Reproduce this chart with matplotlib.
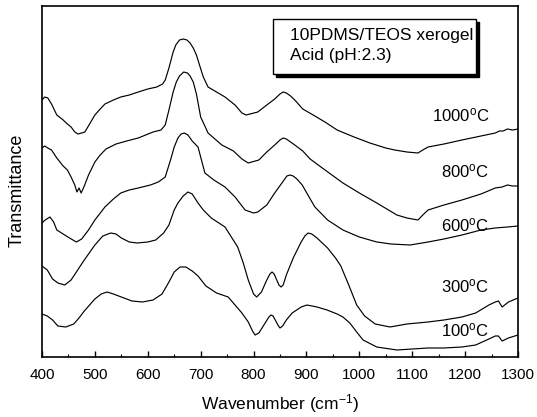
import matplotlib
matplotlib.use("Agg")
import matplotlib.pyplot as plt
from matplotlib.patches import Rectangle
from matplotlib.ticker import MultipleLocator

plt.rcParams['font.family'] = ['Liberation Sans', 'DejaVu Sans']
plt.rcParams['mathtext.fontset'] = 'custom'
plt.rcParams['mathtext.rm'] = 'Liberation Sans'
plt.rcParams['mathtext.it'] = 'Liberation Sans:italic'

# spectra, transmittance in arbitrary (offset) units
wn_1000 = [400, 405, 411, 418, 428, 440, 448, 455, 462, 468, 475, 481, 490, 500, 510, 519,
           535, 549, 565, 582, 600, 617, 628, 633, 640, 648, 653, 660, 667, 674, 680, 686,
           692, 699, 705, 714, 730, 746, 765, 778, 786, 808, 825, 840, 850, 856, 862, 870,
           878, 893, 916, 935, 958, 990, 1020, 1050, 1067, 1090, 1111, 1120, 1130, 1160, 1194,
           1230, 1257, 1265, 1272, 1280, 1290, 1300]
t_1000 = [257, 260, 259, 253, 242, 237, 233, 230, 225, 223, 224, 225, 233, 242, 248, 253,
          257, 260, 262, 265, 268, 270, 273, 277, 289, 305, 312, 317, 318, 317, 314, 309,
          302, 290, 280, 270, 265, 260, 252, 244, 242, 245, 252, 258, 263, 265, 264, 261,
          257, 248, 241, 235, 227, 220, 214, 209, 207, 205, 204, 207, 210, 213, 217,
          221, 224, 226, 226, 228, 227, 228]

wn_800 = [400, 405, 411, 418, 428, 440, 448, 455, 462, 466, 470, 474, 480, 488, 500, 510,
          521, 540, 560, 582, 610, 625, 633, 640, 648, 654, 660, 668, 675, 680, 686, 692,
          700, 714, 740, 762, 778, 790, 810, 825, 840, 850, 856, 862, 870, 878, 893, 907,
          930, 969, 1000, 1033, 1071, 1090, 1111, 1120, 1130, 1160, 1194, 1230, 1257, 1270,
          1280, 1290, 1300]
t_800 = [209, 211, 209, 207, 199, 191, 187, 180, 172, 165, 169, 164, 171, 182, 195, 202,
         208, 213, 216, 219, 225, 227, 232, 247, 265, 275, 281, 285, 284, 281, 275, 263,
         240, 224, 212, 206, 198, 194, 197, 205, 212, 217, 219, 218, 215, 212, 206, 198,
         189, 174, 164, 154, 142, 139, 137, 142, 147, 152, 157, 163, 169, 170,
         172, 171, 171]

wn_600 = [400, 406, 415, 422, 428, 440, 452, 465, 475, 488, 500, 519, 535, 549, 565, 582,
          605, 620, 633, 643, 650, 657, 663, 669, 676, 684, 695, 708, 725, 746, 765, 784,
          800, 808, 825, 840, 855, 863, 869, 875, 882, 892, 905, 916, 940, 969, 1000, 1033,
          1060, 1096, 1130, 1160, 1194, 1230, 1257, 1280, 1300]
t_600 = [134, 137, 140, 135, 127, 123, 119, 115, 118, 127, 137, 150, 158, 164, 167, 169,
         172, 175, 180, 197, 210, 219, 223, 224, 222, 216, 210, 184, 177, 170, 160, 147,
         144, 145, 152, 164, 175, 181, 182, 181, 178, 172, 160, 150, 137, 127, 120, 115,
         113, 112, 115, 118, 122, 127, 129, 130, 131]

wn_300 = [400, 410, 420, 430, 443, 455, 465, 480, 500, 515, 530, 540, 550, 565, 580, 600,
          615, 630, 640, 650, 657, 667, 676, 684, 695, 705, 720, 746, 770, 780, 790, 800,
          806, 815, 825, 831, 835, 839, 843, 848, 852, 856, 862, 875, 890, 897, 903, 910,
          920, 940, 955, 965, 980, 995, 1010, 1030, 1058, 1090, 1130, 1160, 1194, 1220, 1245,
          1257, 1263, 1270, 1282, 1300]
t_300 = [91, 87, 78, 74, 72, 77, 85, 97, 112, 121, 124, 123, 119, 115, 114, 115,
         117, 124, 132, 147, 154, 161, 165, 163, 154, 147, 139, 130, 110, 95, 77, 63,
         60, 65, 77, 83, 85, 83, 78, 72, 70, 72, 82, 99, 115, 121, 124, 123,
         119, 109, 99, 91, 72, 52, 41, 33, 30, 33, 35, 37, 40, 44, 52,
         55, 56, 50, 55, 59]

wn_100 = [400, 410, 420, 430, 445, 460, 470, 480, 500, 512, 523, 535, 550, 570, 590, 610,
          627, 640, 650, 661, 672, 684, 695, 710, 730, 752, 778, 790, 798, 803, 810, 822,
          829, 833, 837, 841, 846, 850, 855, 862, 873, 890, 901, 920, 939, 958, 969, 982,
          995, 1007, 1033, 1071, 1100, 1130, 1160, 1194, 1220, 1245, 1257, 1263, 1270, 1282,
          1300]
t_100 = [43, 41, 37, 31, 30, 33, 39, 46, 58, 63, 65, 63, 60, 56, 55, 57,
         63, 75, 85, 90, 90, 86, 81, 71, 64, 60, 44, 35, 26, 22, 24, 34,
         40, 42, 41, 37, 32, 29, 31, 37, 44, 50, 52, 50, 47, 43, 40, 34,
         25, 17, 10, 7, 8, 9, 9, 10, 12, 18, 21, 21, 16, 19,
         22]

labels = ['1000', '800', '600', '300', '100']
label_y = [242, 186, 132, 71, 27]

fig = plt.figure(figsize=(5.37, 4.17), dpi=100)
ax = fig.add_axes([0.0782, 0.1439, 0.8864, 0.8417])

series = [(wn_1000, t_1000), (wn_800, t_800), (wn_600, t_600), (wn_300, t_300), (wn_100, t_100)]
for (x, y), lab, ly in zip(series, labels, label_y):
    ax.plot(x, y, color='black', lw=0.85, solid_joinstyle='round')
    ax.text(1246, ly, lab + r'$^{\mathrm{o}}$C', ha='right', va='center', fontsize=12)

ax.set_xlim(400, 1300)
ax.set_ylim(0, 351)
ax.xaxis.set_major_locator(MultipleLocator(100))
ax.xaxis.set_minor_locator(MultipleLocator(50))
ax.tick_params(axis='x', which='major', direction='in', length=4, width=1, labelsize=11, pad=8)
ax.tick_params(axis='x', which='minor', direction='in', length=2.2, width=0.8)
ax.tick_params(axis='y', left=False, labelleft=False)
for s in ax.spines.values():
    s.set_linewidth(1.2)

# boxed note with drop shadow
ax.add_patch(Rectangle((0.491, 0.797), 0.427, 0.157, transform=ax.transAxes,
                       facecolor='black', edgecolor='black', zorder=4))
ax.add_patch(Rectangle((0.485, 0.806), 0.427, 0.157, transform=ax.transAxes,
                       facecolor='white', edgecolor='black', lw=1, zorder=5))
ax.text(0.521, 0.917, '10PDMS/TEOS xerogel', transform=ax.transAxes, fontsize=12.5,
        va='center', zorder=6)
ax.text(0.521, 0.858, 'Acid (pH:2.3)', transform=ax.transAxes, fontsize=12.5,
        va='center', zorder=6)

fig.text(280 / 537, 1 - 404 / 417, r'Wavenumber (cm$^{-1}$)', ha='center', va='center', fontsize=12.5)
fig.text(17 / 537, 1 - 190 / 417, 'Transmittance', ha='center', va='center', rotation=90, fontsize=13)

fig.savefig('out.png', dpi=100)
